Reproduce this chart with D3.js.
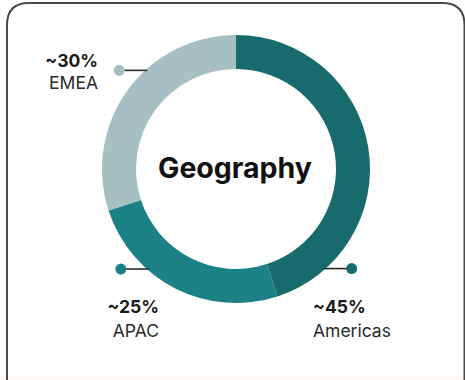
<!DOCTYPE html>
<html>
<head>
<meta charset="utf-8">
<script src="https://cdn.jsdelivr.net/npm/d3@7"></script>
<style>
  body { margin: 0; background: #fff; }
  svg { display: block; font-family: Inter, "Inter Variable", "Noto Sans", sans-serif; }
</style>
</head>
<body>
<svg id="geo"></svg>
<script>
const width = 465;
const height = 380;

// chart data
const regions = ["Americas", "APAC", "EMEA"];
const shares = [45, 25, 30];
const shareLabels = ["~45%", "~25%", "~30%"];
const colors = ["#176b6d", "#1b8185", "#a5bfc3"];

const cx = 236, cy = 169;
const outerR = 134, innerR = 100;

const svg = d3.select("#geo")
    .attr("width", width)
    .attr("height", height);

// card outline
svg.append("rect")
    .attr("x", 0).attr("y", 377)
    .attr("width", width).attr("height", 3)
    .attr("fill", "#fdf9f3");

svg.append("path")
    .attr("d", `M7,${height + 10} L7,25 Q7,3 29,3 L442,3 Q464.5,3 464.5,25 L464.5,${height + 10}`)
    .attr("fill", "none")
    .attr("stroke", "#4a4a4a")
    .attr("stroke-width", 2);

const pie = d3.pie().sort(null).value(d => d);
const arc = d3.arc().innerRadius(innerR).outerRadius(outerR);

const g = svg.append("g").attr("transform", `translate(${cx},${cy})`);

g.selectAll("path.slice")
    .data(pie(shares))
    .join("path")
    .attr("class", "slice")
    .attr("d", arc)
    .attr("fill", (d, i) => colors[i]);

g.append("text")
    .attr("x", -1).attr("y", 9)
    .attr("text-anchor", "middle")
    .attr("font-size", 28.5)
    .attr("font-weight", 700)
    .attr("fill", "#111")
    .text("Geography");

// callouts: angle on the ring (deg, clockwise from top), side of the text
const callouts = [
  { angle: 138, side: 1, textX: 313, y1: 313, y2: 337 },
  { angle: 221.7, side: -1, textX: 159, y1: 313, y2: 337 },
  { angle: 317.4, side: -1, textX: 98, y1: 67, y2: 89 }
];

callouts.forEach((c, i) => {
  const a = c.angle * Math.PI / 180;
  const px = Math.sin(a) * outerR + cx;
  const py = -Math.cos(a) * outerR + cy;
  const dx = px + c.side * 26;
  svg.append("line")
      .attr("x1", px - c.side * 2).attr("y1", py)
      .attr("x2", dx).attr("y2", py)
      .attr("stroke", "#2b2b2b")
      .attr("stroke-width", 1.6);
  svg.append("circle")
      .attr("cx", dx).attr("cy", py)
      .attr("r", 5.5)
      .attr("fill", colors[i]);
  const anchor = c.side > 0 ? "start" : "end";
  svg.append("text")
      .attr("x", c.textX).attr("y", c.y1)
      .attr("text-anchor", anchor)
      .attr("font-size", 17.5)
      .attr("font-weight", 700)
      .attr("fill", "#1a1a1a")
      .text(shareLabels[i]);
  svg.append("text")
      .attr("x", c.textX).attr("y", c.y2)
      .attr("text-anchor", anchor)
      .attr("font-size", 17.5)
      .attr("fill", "#2a2a2a")
      .text(regions[i]);
});
</script>
</body>
</html>
